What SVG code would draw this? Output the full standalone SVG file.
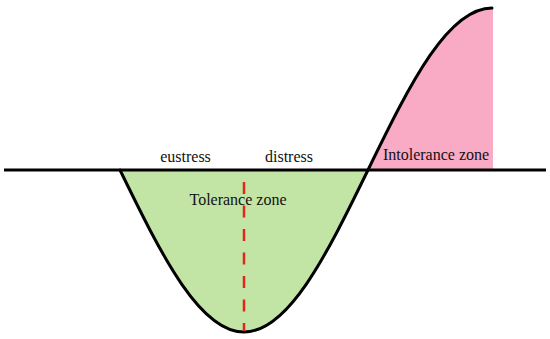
<svg xmlns="http://www.w3.org/2000/svg" width="550" height="339" viewBox="0 0 550 339">
<style>
.lbl{font-family:"Liberation Serif","Times New Roman",serif;font-size:16px;fill:#111}
</style>
<rect width="550" height="339" fill="#ffffff"/>
<g id="tolerance-area">
<path d="M120,170 C140.67,212.41 161.33,254.56 182,284.55 C202.67,314.54 223.33,332 244,332 C264.67,332 285.33,314.54 306,284.55 C326.67,254.56 347.33,212.41 368,170 Z" fill="#c2e5a6"/>
</g>
<g id="intolerance-area">
<path d="M368,170 C388.67,127.59 409.33,85.44 430,55.45 C450.67,25.46 471.33,8 492,8 L493,8 L493,170 Z" fill="#f9aac5"/>
</g>
<g id="axis">
<line x1="4" y1="170" x2="546" y2="170" stroke="#000" stroke-width="3"/>
</g>
<g id="curve">
<path d="M120,170 C140.67,212.41 161.33,254.56 182,284.55 C202.67,314.54 223.33,332 244,332 C264.67,332 285.33,314.54 306,284.55 C326.67,254.56 347.33,212.41 368,170 C388.67,127.59 409.33,85.44 430,55.45 C450.67,25.46 471.33,8 492,8" fill="none" stroke="#000" stroke-width="3" stroke-linecap="round"/>
</g>
<g id="divider">
<line x1="244" y1="182" x2="244" y2="331" stroke="#e3261c" stroke-width="2.5" stroke-dasharray="12 11.5"/>
</g>
<g id="labels">
<text class="lbl" x="185.5" y="162" text-anchor="middle">eustress</text>
<text class="lbl" x="289" y="162" text-anchor="middle">distress</text>
<text class="lbl" x="238" y="205" text-anchor="middle">Tolerance zone</text>
<text class="lbl" x="436" y="160" text-anchor="middle">Intolerance zone</text>
</g>
</svg>
